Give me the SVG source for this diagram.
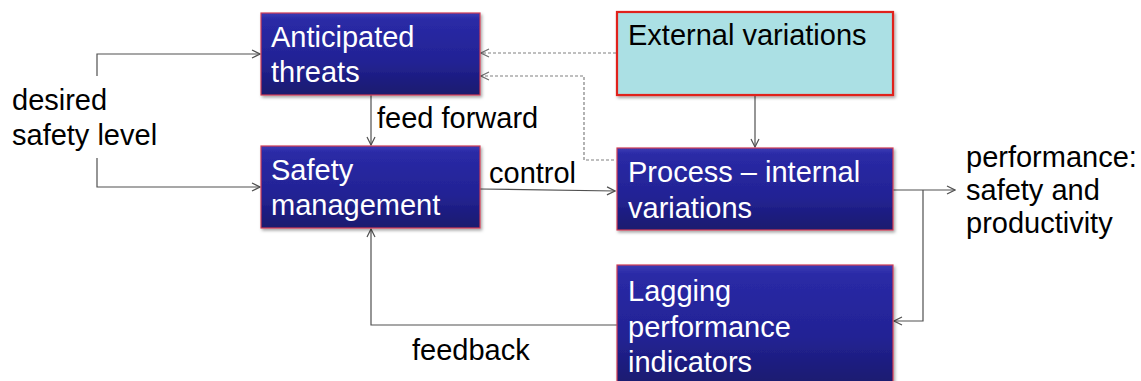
<svg xmlns="http://www.w3.org/2000/svg" width="1141" height="381" viewBox="0 0 1141 381">
<style>
.box{fill:url(#blue);stroke:#d03c55;stroke-width:1.2}
.ext{fill:#abe0e4;stroke:#e0201e;stroke-width:2.2}
.wt{font-family:"Liberation Sans",Arial,sans-serif;font-size:29px;fill:#ffffff}
.bt{font-family:"Liberation Sans",Arial,sans-serif;font-size:29px;fill:#000000}
.ln{fill:none;stroke:#505050;stroke-width:1.2}
.dash{fill:none;stroke:#808080;stroke-width:1.2;stroke-dasharray:3 2}
</style>
<defs>
<linearGradient id="blue" x1="0" y1="0" x2="0" y2="1">
<stop offset="0" stop-color="#3a3ab4"/>
<stop offset="0.08" stop-color="#2a2aa6"/>
<stop offset="0.6" stop-color="#222294"/>
<stop offset="1" stop-color="#1a1a6e"/>
</linearGradient>
<filter id="sh" x="-5%" y="-5%" width="115%" height="120%">
<feDropShadow dx="1.5" dy="2" stdDeviation="1.5" flood-color="#000" flood-opacity="0.35"/>
</filter>
<marker id="ar" markerWidth="10" markerHeight="10" refX="9" refY="5" orient="auto" markerUnits="userSpaceOnUse">
<path d="M1,1 L9,5 L1,9" fill="none" stroke="#505050" stroke-width="1.2"/>
</marker>
<marker id="ard" markerWidth="10" markerHeight="10" refX="9" refY="5" orient="auto" markerUnits="userSpaceOnUse">
<path d="M1,1 L9,5 L1,9" fill="none" stroke="#707070" stroke-width="1.2"/>
</marker>
</defs>

<g id="connectors">
<path class="ln" d="M97,76 V54 H260" marker-end="url(#ar)"/>
<path class="ln" d="M97,158 V187 H260" marker-end="url(#ar)"/>
<path class="ln" d="M371,95 V145" marker-end="url(#ar)"/>
<path class="ln" d="M480,189 L615,191" marker-end="url(#ar)"/>
<path class="ln" d="M755,96 V147" marker-end="url(#ar)"/>
<path class="ln" d="M893,190 H955" marker-end="url(#ar)"/>
<path class="ln" d="M923,190 V321 H894" marker-end="url(#ar)"/>
<path class="ln" d="M617,325 H371 V229" marker-end="url(#ar)"/>
<path class="dash" d="M616,53 H481" marker-end="url(#ard)"/>
<path class="dash" d="M614,160 H584 V76 H481" marker-end="url(#ard)"/>
</g>

<g id="anticipated-threats">
<rect class="box" x="261" y="13" width="219" height="82" filter="url(#sh)"/>
<text class="wt" x="271" y="47">Anticipated</text>
<text class="wt" x="271" y="82">threats</text>
</g>

<g id="external-variations">
<rect class="ext" x="617" y="12" width="276" height="83" filter="url(#sh)"/>
<text class="bt" x="628" y="45">External variations</text>
</g>

<g id="safety-management">
<rect class="box" x="261" y="146" width="219" height="82" filter="url(#sh)"/>
<text class="wt" x="271" y="180">Safety</text>
<text class="wt" x="271" y="215">management</text>
</g>

<g id="process">
<rect class="box" x="617" y="148" width="276" height="82" filter="url(#sh)"/>
<text class="wt" x="628" y="182">Process – internal</text>
<text class="wt" x="628" y="218">variations</text>
</g>

<g id="lagging">
<rect class="box" x="617" y="265" width="276" height="120" filter="url(#sh)"/>
<text class="wt" x="628" y="301">Lagging</text>
<text class="wt" x="628" y="337">performance</text>
<text class="wt" x="628" y="372">indicators</text>
</g>

<g id="labels">
<text class="bt" x="12" y="110">desired</text>
<text class="bt" x="12" y="145">safety level</text>
<text class="bt" x="377" y="128">feed forward</text>
<text class="bt" x="489" y="183">control</text>
<text class="bt" x="412" y="360">feedback</text>
<text class="bt" x="966" y="167">performance:</text>
<text class="bt" x="966" y="200">safety and</text>
<text class="bt" x="966" y="233">productivity</text>
</g>
</svg>
